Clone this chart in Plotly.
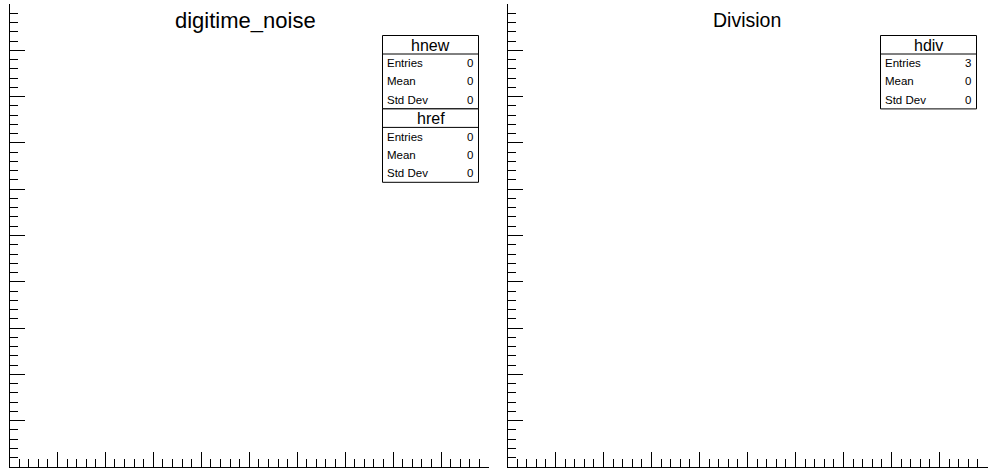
import plotly.graph_objects as go

W, H = 996, 472

# ---- data ----
pad_titles = ["digitime_noise", "Division"]
stat_labels = ["Entries", "Mean", "Std Dev"]
left_hists = ["hnew", "href"]
left_entries = [0, 0]
left_means = [0, 0]
left_stddevs = [0, 0]
right_hists = ["hdiv"]
right_entries = [3]
right_means = [0]
right_stddevs = [0]

# ---- layout constants (pixels) ----
pads = [(9.5, 489.0), (507.5, 987.5)]
plot_top, plot_bot = 4.0, 467.0
title_sizes = [22, 19.5]
title_centers = [245, 747]
box_widths = 96
box_rights = [478.5, 976.5]
box_top = 35.5
title_row_h = 18.5
row_h = 18.3

def px(x):
    return x / W

def py(y):
    return 1 - y / H

fig = go.Figure()
for i in range(2):
    sfx = "" if i == 0 else str(i + 1)
    fig.add_trace(go.Scatter(x=[], y=[], mode="lines", xaxis="x" + sfx, yaxis="y" + sfx,
                             showlegend=False, line=dict(color="black")))

axis_common = dict(
    range=[0, 1], showgrid=False, zeroline=False, showticklabels=False,
    showline=True, linecolor="black", linewidth=1, ticks="inside", ticklen=15,
    tickcolor="black", tickwidth=1, tick0=0, dtick=0.1, mirror=False,
    minor=dict(ticks="inside", ticklen=8, tickcolor="black", tickwidth=1, tick0=0, dtick=0.02, showgrid=False),
    fixedrange=True,
)

layout = dict(
    width=W, height=H, margin=dict(l=0, r=0, t=0, b=0),
    paper_bgcolor="white", plot_bgcolor="white",
    font=dict(family="Liberation Sans, Arial, Helvetica, sans-serif", color="black"),
    showlegend=False,
)
for i, (x0, x1) in enumerate(pads):
    sfx = "" if i == 0 else str(i + 1)
    layout["xaxis" + sfx] = dict(axis_common, domain=[px(x0), px(x1)], anchor="y" + sfx)
    layout["yaxis" + sfx] = dict(axis_common, domain=[py(plot_bot), py(plot_top)], anchor="x" + sfx)

fig.update_layout(**layout)

shapes = []
annotations = []
for i, t in enumerate(pad_titles):
    annotations.append(dict(text=t, x=px(title_centers[i]), y=py(20), xref="paper", yref="paper",
                            showarrow=False, xanchor="center", yanchor="middle",
                            font=dict(size=title_sizes[i])))

def stats_box(names, entries, means, stds, right):
    left = right - box_widths
    y = box_top
    for n, e, m, s in zip(names, entries, means, stds):
        h = title_row_h + 3 * row_h
        shapes.append(dict(type="rect", xref="paper", yref="paper",
                           x0=px(left), x1=px(right), y0=py(y + h), y1=py(y),
                           line=dict(color="black", width=1), fillcolor="white"))
        shapes.append(dict(type="line", xref="paper", yref="paper",
                           x0=px(left), x1=px(right), y0=py(y + title_row_h), y1=py(y + title_row_h),
                           line=dict(color="black", width=1)))
        annotations.append(dict(text=n, x=px((left + right) / 2), y=py(y + title_row_h / 2 + 0.5),
                                xref="paper", yref="paper", showarrow=False,
                                xanchor="center", yanchor="middle", font=dict(size=16)))
        vals = [e, m, s]
        for k, lab in enumerate(stat_labels):
            yc = y + title_row_h + row_h * (k + 0.5)
            annotations.append(dict(text=lab, x=px(left + 2.5), y=py(yc), xref="paper", yref="paper",
                                    showarrow=False, xanchor="left", yanchor="middle", font=dict(size=11.5)))
            annotations.append(dict(text=str(vals[k]), x=px(right - 4), y=py(yc), xref="paper", yref="paper",
                                    showarrow=False, xanchor="right", yanchor="middle", font=dict(size=11.5)))
        y += h

stats_box(left_hists, left_entries, left_means, left_stddevs, box_rights[0])
stats_box(right_hists, right_entries, right_means, right_stddevs, box_rights[1])

fig.update_layout(shapes=shapes, annotations=annotations)
fig.write_html("out.html")
